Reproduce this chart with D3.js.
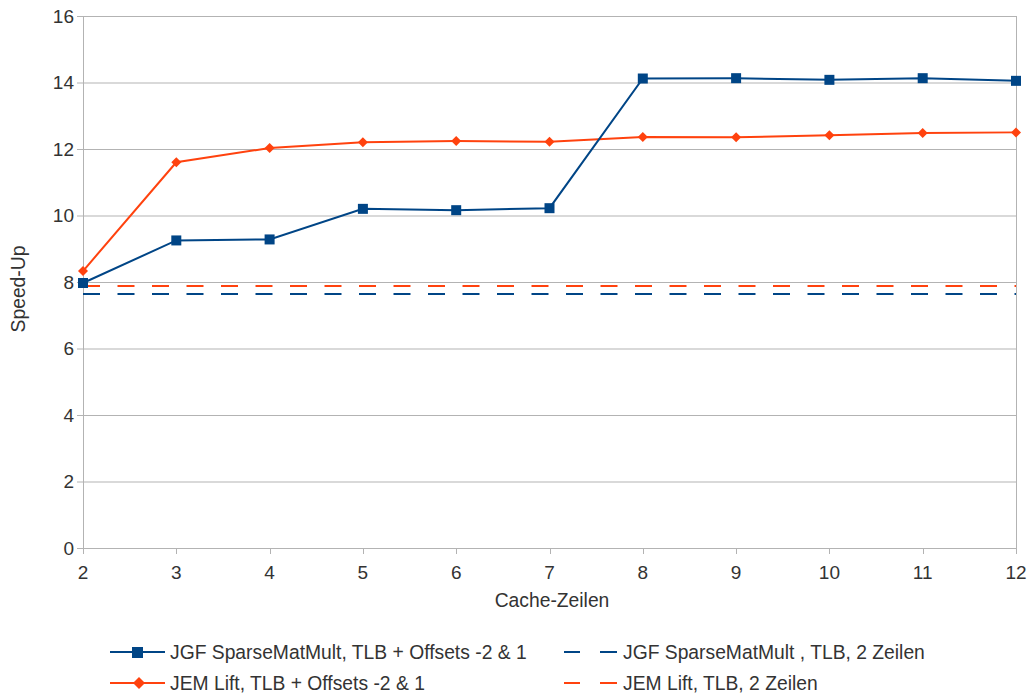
<!DOCTYPE html>
<html>
<head>
<meta charset="utf-8">
<script src="https://cdn.jsdelivr.net/npm/d3@7"></script>
<style>
  body { margin: 0; background: #fff; }
  text { font-family: "Liberation Sans", Arial, sans-serif; fill: #333; }
</style>
</head>
<body>
<svg id="chart"></svg>
<script>
// cache lines on x axis
const cacheLines = [2, 3, 4, 5, 6, 7, 8, 9, 10, 11, 12];
const jgfOffsets = [7.97, 9.25, 9.28, 10.2, 10.16, 10.22, 14.12, 14.13, 14.08, 14.13, 14.05];
const jemOffsets = [8.33, 11.6, 12.03, 12.2, 12.24, 12.22, 12.36, 12.35, 12.41, 12.48, 12.5];
const jgfTwoLines = 7.64;
const jemTwoLines = 7.88;
const yTicks = [0, 2, 4, 6, 8, 10, 12, 14, 16];

const width = 1031, height = 695;
const margin = {top: 16, right: 15, bottom: 147, left: 83};
const blue = '#004586', orange = '#ff420e', grid = '#b3b3b3';
const fs = '19px', legendFs = '19.3px';

const svg = d3.select('#chart')
    .attr('width', width)
    .attr('height', height);

const x = d3.scaleLinear()
    .domain([2, 12])
    .range([margin.left, width - margin.right]);

const y = d3.scaleLinear()
    .domain([0, 16])
    .range([height - margin.bottom, margin.top]);

// grid lines
svg.append('g')
  .selectAll('line')
  .data(yTicks)
  .enter().append('line')
    .attr('x1', x(2) - 6)
    .attr('x2', x(12))
    .attr('y1', d => y(d) + 0.5)
    .attr('y2', d => y(d) + 0.5)
    .style('stroke', grid)
    .style('stroke-width', 1);

// left and right borders
svg.append('line')
    .attr('x1', x(2) + 0.5).attr('x2', x(2) + 0.5)
    .attr('y1', y(16)).attr('y2', y(0))
    .style('stroke', grid);
svg.append('line')
    .attr('x1', x(12) + 0.5).attr('x2', x(12) + 0.5)
    .attr('y1', y(16)).attr('y2', y(0) + 6)
    .style('stroke', grid);

// x tick marks
svg.append('g')
  .selectAll('line')
  .data(cacheLines)
  .enter().append('line')
    .attr('x1', d => Math.round(x(d)) + 0.5)
    .attr('x2', d => Math.round(x(d)) + 0.5)
    .attr('y1', y(0))
    .attr('y2', y(0) + 6)
    .style('stroke', grid);

// y tick labels
svg.append('g')
  .selectAll('text')
  .data(yTicks)
  .enter().append('text')
    .attr('x', x(2) - 9)
    .attr('y', d => y(d))
    .attr('dy', '0.35em')
    .style('font-size', fs)
    .style('text-anchor', 'end')
    .text(d => d);

// x tick labels
svg.append('g')
  .selectAll('text')
  .data(cacheLines)
  .enter().append('text')
    .attr('x', d => x(d))
    .attr('y', y(0) + 31)
    .style('font-size', fs)
    .style('text-anchor', 'middle')
    .text(d => d);

// axis titles
svg.append('text')
    .attr('x', 552)
    .attr('y', 607)
    .style('font-size', legendFs)
    .style('text-anchor', 'middle')
    .text('Cache-Zeilen');

svg.append('text')
    .attr('transform', 'translate(25,289) rotate(-90)')
    .style('font-size', legendFs)
    .style('text-anchor', 'middle')
    .text('Speed-Up');

// dashed reference lines
const dash = '17,17.5';
svg.append('line')
    .attr('x1', x(2)).attr('x2', x(12))
    .attr('y1', y(jgfTwoLines)).attr('y2', y(jgfTwoLines))
    .style('stroke', blue).style('stroke-width', 2)
    .style('stroke-dasharray', dash);
svg.append('line')
    .attr('x1', x(2)).attr('x2', x(12))
    .attr('y1', y(jemTwoLines)).attr('y2', y(jemTwoLines))
    .style('stroke', orange).style('stroke-width', 2)
    .style('stroke-dasharray', dash);

const line = d3.line()
    .x((d, i) => x(cacheLines[i]))
    .y(d => y(d));

// orange series
svg.append('path')
    .datum(jemOffsets)
    .attr('d', line)
    .style('fill', 'none')
    .style('stroke', orange)
    .style('stroke-width', 2);

svg.append('g')
  .selectAll('path')
  .data(jemOffsets)
  .enter().append('path')
    .attr('d', 'M0,-5L5,0L0,5L-5,0Z')
    .attr('transform', (d, i) => 'translate(' + x(cacheLines[i]) + ',' + y(d) + ')')
    .style('fill', orange);

// blue series
svg.append('path')
    .datum(jgfOffsets)
    .attr('d', line)
    .style('fill', 'none')
    .style('stroke', blue)
    .style('stroke-width', 2);

svg.append('g')
  .selectAll('rect')
  .data(jgfOffsets)
  .enter().append('rect')
    .attr('x', (d, i) => x(cacheLines[i]) - 5)
    .attr('y', d => y(d) - 5)
    .attr('width', 10)
    .attr('height', 10)
    .style('fill', blue);

// legend
const legendItems = [
  {label: 'JGF SparseMatMult, TLB + Offsets -2 & 1', color: blue, marker: 'square', dashed: false, lx: 110, ly: 652},
  {label: 'JEM Lift, TLB + Offsets -2 & 1', color: orange, marker: 'diamond', dashed: false, lx: 110, ly: 683},
  {label: 'JGF SparseMatMult , TLB, 2 Zeilen', color: blue, dashed: true, lx: 563, ly: 652},
  {label: 'JEM Lift, TLB, 2 Zeilen', color: orange, dashed: true, lx: 563, ly: 683}
];

const legend = svg.selectAll('.legend')
    .data(legendItems)
    .enter().append('g')
    .attr('class', 'legend')
    .attr('transform', d => 'translate(' + d.lx + ',' + d.ly + ')');

legend.each(function(d) {
  const g = d3.select(this);
  if (d.dashed) {
    g.append('line').attr('x1', 1).attr('x2', 17).attr('y1', 0).attr('y2', 0)
      .style('stroke', d.color).style('stroke-width', 2);
    g.append('line').attr('x1', 37).attr('x2', 54).attr('y1', 0).attr('y2', 0)
      .style('stroke', d.color).style('stroke-width', 2);
    g.append('text').attr('x', 60).attr('y', 0).attr('dy', '0.35em')
      .style('font-size', legendFs).text(d.label);
  } else {
    g.append('line').attr('x1', 0).attr('x2', 55).attr('y1', 0).attr('y2', 0)
      .style('stroke', d.color).style('stroke-width', 2);
    if (d.marker === 'square') {
      g.append('rect').attr('x', 22).attr('y', -5).attr('width', 11).attr('height', 11)
        .style('fill', d.color);
    } else {
      g.append('path').attr('d', 'M0,-6L6,0L0,6L-6,0Z')
        .attr('transform', 'translate(29,0)').style('fill', d.color);
    }
    g.append('text').attr('x', 60).attr('y', 0).attr('dy', '0.35em')
      .style('font-size', legendFs).text(d.label);
  }
});
</script>
</body>
</html>
